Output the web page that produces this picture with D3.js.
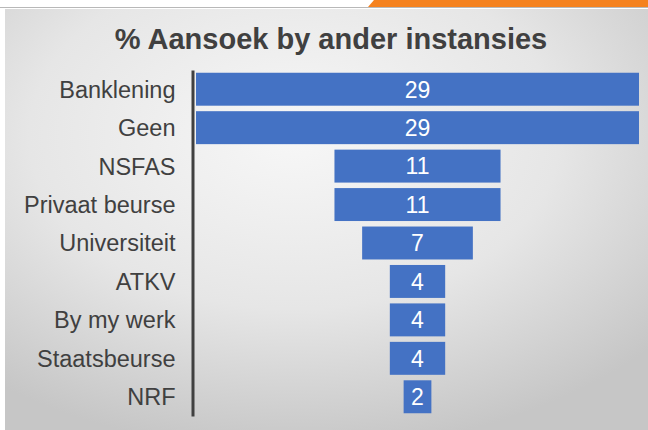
<!DOCTYPE html>
<html>
<head>
<meta charset="utf-8">
<script src="https://cdn.jsdelivr.net/npm/d3@7"></script>
<style>
	body { margin: 0; background: #fff; }
	svg text { font-family: "Liberation Sans", Arial, sans-serif; }
	.y.axis .domain { stroke: #404040; stroke-width: 3px; }
	.y.axis text { fill: #404040; font-size: 23.5px; }
	.barLabel { fill: #fff; font-size: 23px; }
</style>
</head>
<body>
<div id="graphic"></div>
<script>
// categories top to bottom
const categories = ['Banklening', 'Geen', 'NSFAS', 'Privaat beurse', 'Universiteit', 'ATKV', 'By my werk', 'Staatsbeurse', 'NRF'];
// percentage per category (labels show rounded)
const values = [28.57, 28.57, 10.71, 10.71, 7.14, 3.57, 3.57, 3.57, 1.79];
const title = '% Aansoek by ander instansies';

const width = 648, height = 430;
const data = categories.map((c, i) => ({ name: c, value: values[i] }));
const maxVal = d3.max(values);

const svg = d3.select('#graphic').append('svg')
	.attr('width', width)
	.attr('height', height)
	.style('display', 'block');

// background gradient
const defs = svg.append('defs');
const grad = defs.append('radialGradient')
	.attr('id', 'bg')
	.attr('cx', '45%').attr('cy', '30%').attr('r', '75%');
grad.append('stop').attr('offset', '0%').attr('stop-color', '#f7f7f7');
grad.append('stop').attr('offset', '55%').attr('stop-color', '#e6e6e6');
grad.append('stop').attr('offset', '100%').attr('stop-color', '#c6c6c6');

svg.append('rect').attr('width', width).attr('height', height).attr('fill', '#fff');
svg.append('rect')
	.attr('x', 5).attr('y', 9)
	.attr('width', width - 5).attr('height', height - 9)
	.attr('fill', 'url(#bg)');

// orange strip top right
svg.append('path')
	.attr('d', 'M374,0 L648,0 L648,7 L368,7 Z')
	.attr('fill', '#f5821f');
svg.append('line')
	.attr('x1', 0).attr('x2', width)
	.attr('y1', 7.5).attr('y2', 7.5)
	.attr('stroke', '#b8b8b8').attr('stroke-width', 1);

// title
svg.append('text')
	.attr('x', 331)
	.attr('y', 49)
	.attr('text-anchor', 'middle')
	.attr('font-size', '29px')
	.attr('font-weight', 'bold')
	.attr('fill', '#404040')
	.text(title);

// scales
const y = d3.scaleBand()
	.domain(categories)
	.range([70, 416])
	.paddingInner(0.143)
	.paddingOuter(0.0715);

const x = d3.scaleLinear()
	.domain([0, maxVal])
	.range([196, 639]);

// bars, centred like a funnel
svg.selectAll('rect.bar')
	.data(data)
	.join('rect')
	.attr('class', 'bar')
	.attr('x', (d) => x((maxVal - d.value) / 2))
	.attr('y', (d) => y(d.name))
	.attr('width', (d) => x(d.value) - x(0))
	.attr('height', y.bandwidth())
	.attr('fill', '#4472c4');

svg.selectAll('text.barLabel')
	.data(data)
	.join('text')
	.attr('class', 'barLabel')
	.attr('x', x(maxVal / 2))
	.attr('y', (d) => y(d.name) + y.bandwidth() / 2)
	.attr('dy', '0.36em')
	.attr('text-anchor', 'middle')
	.text((d) => d3.format('.0f')(d.value));

// y axis
svg.append('g')
	.attr('class', 'y axis')
	.attr('transform', 'translate(192.5,0)')
	.call(d3.axisLeft(y).tickSize(0).tickPadding(17))
	.call((g) => g.attr('font-family', null))
	.call((g) => g.selectAll('text').attr('dy', '0.36em'));
</script>
</body>
</html>
